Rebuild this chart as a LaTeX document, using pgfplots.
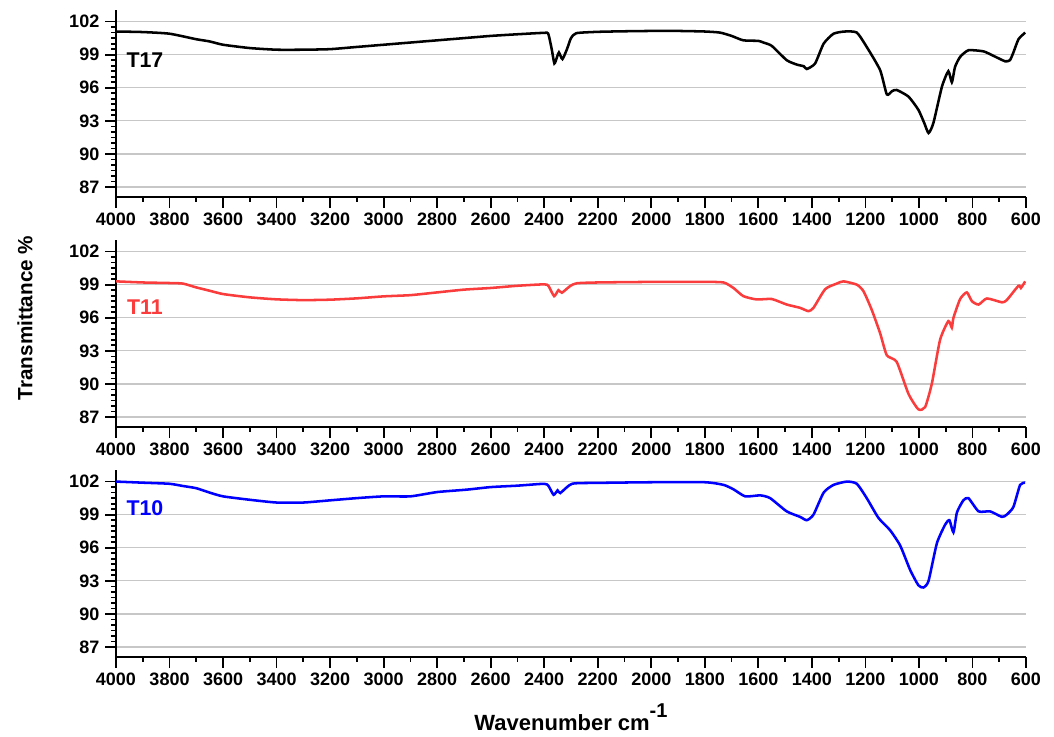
\documentclass[border=0pt]{standalone}
\usepackage{fontspec}
\setmainfont{Liberation Sans}
\usepackage{pgfplots}
\pgfplotsset{compat=1.18}

\definecolor{tred}{RGB}{250,60,60}
\definecolor{tblue}{RGB}{0,0,255}

\pgfplotsset{
  irpanel/.style={
    scale only axis,
    width=682.5pt, height=140.25pt,
    xmin=600, xmax=4000, x dir=reverse,
    ymin=86.1, ymax=103.05,
    axis lines=left,
    axis line style={-, line width=1.6pt},
    xtick={600,800,...,4000},
    ytick={87,90,...,102},
    minor x tick num=1,
    minor y tick num=5,
    tick align=outside,
    major tick length=8pt,
    minor tick length=3.5pt,
    every tick/.style={black, line width=1.3pt},
    ymajorgrids,
    major grid style={black!22, line width=0.9pt},
    /pgf/number format/assume math mode=true,
    /pgf/number format/1000 sep={},
    ticklabel style={font=\bfseries\fontsize{13.5}{13.5}\selectfont},
    xticklabel style={yshift=-0.5pt},
    yticklabel style={xshift=-1pt},
  }
}

\begin{document}
\begin{tikzpicture}
\path[use as bounding box] (-87pt,-60pt) rectangle (703.5pt,492.75pt);

% T17
\begin{axis}[irpanel, at={(0,345pt)}]
\addplot[black, line width=1.9pt, smooth, tension=0.35] coordinates {
(4000,101.1)(3900,101.05)(3800,100.9)(3700,100.4)(3650,100.2)(3600,99.9)(3500,99.6)(3400,99.45)
(3300,99.45)(3200,99.5)(3100,99.7)(3000,99.9)(2900,100.1)(2800,100.3)(2700,100.5)(2600,100.7)
(2500,100.85)(2400,100.98)(2385,100.9)(2372,99.5)(2362,98.2)(2352,98.8)(2345,99.2)(2332,98.6)
(2315,99.5)(2300,100.5)(2280,100.95)(2200,101.07)(2100,101.12)(2000,101.15)(1900,101.15)
(1800,101.1)(1743,101.0)(1700,100.7)(1656,100.3)(1600,100.25)(1581,100.1)(1550,99.8)(1494,98.5)
(1456,98.1)(1430,97.95)(1419,97.7)(1388,98.2)(1356,100.0)(1319,100.9)(1276,101.1)(1232,101.0)
(1195,99.7)(1145,97.6)(1120,95.4)(1100,95.7)(1083,95.8)(1039,95.2)(1002,94.0)(980,92.8)
(964,91.9)(946,92.8)(914,96.1)(890,97.5)(877,96.5)(865,97.9)(846,98.8)(815,99.4)(759,99.3)
(722,98.9)(678,98.4)(660,98.5)(647,99.2)(628,100.4)(603,101.0)
};
\node[font=\bfseries\fontsize{16}{16}\selectfont, text=black] at (3892,98.5) {T17};
\end{axis}

% T11
\begin{axis}[irpanel, at={(0,172.5pt)}]
\addplot[tred, line width=1.9pt, smooth, tension=0.35] coordinates {
(4000,99.3)(3900,99.2)(3800,99.15)(3750,99.1)(3700,98.75)(3650,98.45)(3600,98.15)(3500,97.85)
(3400,97.67)(3300,97.6)(3200,97.64)(3100,97.76)(3000,97.94)(2900,98.05)(2800,98.3)(2700,98.55)
(2600,98.7)(2500,98.9)(2400,99.03)(2384,98.88)(2363,97.96)(2347,98.5)(2334,98.27)(2303,98.88)
(2278,99.13)(2200,99.2)(2000,99.25)(1800,99.25)(1730,99.2)(1693,98.7)(1656,97.96)(1606,97.66)
(1550,97.7)(1494,97.2)(1444,96.9)(1413,96.6)(1394,96.9)(1350,98.6)(1307,99.1)(1282,99.3)
(1232,99.0)(1207,98.4)(1176,96.7)(1145,94.6)(1120,92.6)(1083,92.0)(1039,89.1)(1002,87.7)
(977,87.9)(952,90.0)(921,94.0)(890,95.7)(877,95.1)(871,96.0)(846,97.7)(821,98.3)(802,97.5)
(777,97.2)(746,97.75)(690,97.4)(672,97.6)(628,98.9)(619,98.7)(603,99.3)
};
\node[font=\bfseries\fontsize{16}{16}\selectfont, text=tred] at (3892,97.0) {T11};
\end{axis}

% T10
\begin{axis}[irpanel, at={(0,0)}]
\addplot[tblue, line width=1.9pt, smooth, tension=0.35] coordinates {
(4000,102.0)(3900,101.9)(3800,101.8)(3750,101.6)(3700,101.4)(3650,101.0)(3600,100.66)(3500,100.35)
(3400,100.1)(3300,100.1)(3200,100.3)(3100,100.5)(3000,100.66)(2900,100.66)(2800,101.05)(2689,101.27)
(2600,101.5)(2500,101.63)(2400,101.8)(2384,101.6)(2365,100.8)(2350,101.2)(2340,100.96)(2296,101.8)
(2200,101.88)(2000,101.94)(1800,101.94)(1730,101.7)(1693,101.3)(1649,100.66)(1593,100.75)
(1556,100.5)(1494,99.3)(1444,98.8)(1419,98.5)(1394,99.0)(1356,101.0)(1319,101.7)(1269,102.0)
(1232,101.8)(1195,100.5)(1151,98.7)(1108,97.6)(1070,96.2)(1033,94.0)(1002,92.6)(983,92.4)
(964,93.0)(933,96.4)(902,98.1)(886,98.5)(871,97.4)(858,99.2)(834,100.3)(815,100.5)(777,99.3)
(734,99.3)(690,98.8)(672,99.0)(647,99.7)(622,101.7)(603,101.9)
};
\node[font=\bfseries\fontsize{16}{16}\selectfont, text=tblue] at (3892,99.6) {T10};
\end{axis}

\node[rotate=90, font=\bfseries\fontsize{15.5}{15.5}\selectfont] at (-68.25pt,254.25pt) {Transmittance \%};
\node[font=\bfseries\fontsize{16.5}{16.5}\selectfont] at (341.25pt,-45pt)
  {Wavenumber cm\raisebox{1.1ex}{\fontsize{15}{15}\selectfont -1}};
\end{tikzpicture}
\end{document}
